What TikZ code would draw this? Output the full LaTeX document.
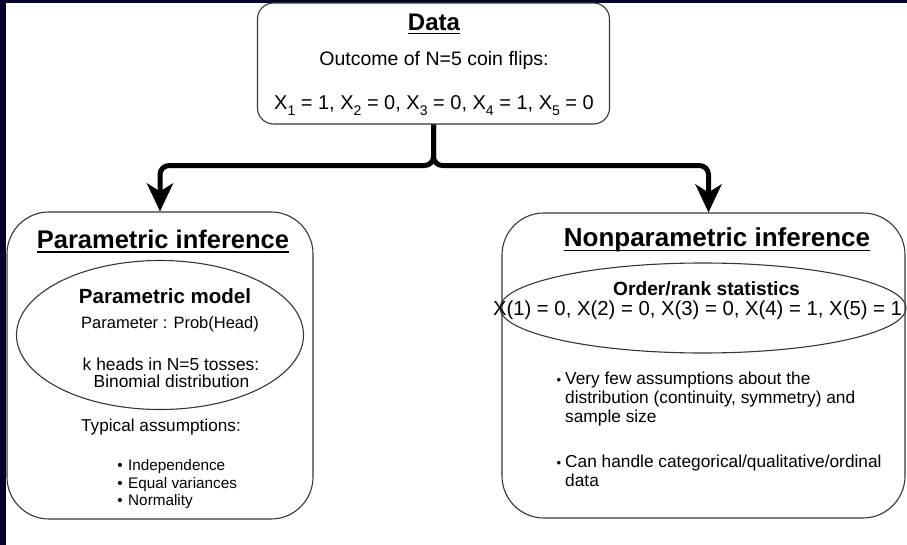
\documentclass[tikz,border=0pt]{standalone}
\usepackage{fontspec}
\setmainfont{Liberation Sans}
\usetikzlibrary{shapes.geometric,arrows.meta}
\definecolor{navy}{RGB}{3,3,45}
\definecolor{edgecol}{RGB}{55,55,55}
\newcommand{\mysub}[1]{\raisebox{-0.28em}{\fontsize{14}{14}\selectfont #1}}
\newcommand{\fs}[1]{\fontsize{#1}{#1}\selectfont}
\begin{document}
\begin{tikzpicture}[x=1pt,y=-1pt,
  box/.style={draw=edgecol, line width=1.1pt, inner sep=0pt},
  oval/.style={draw=edgecol, line width=1.1pt, ellipse, inner sep=0pt},
  txt/.style={inner sep=0pt, text=black},
  uline/.style={line width=1.2pt, black},
  conn/.style={line width=5pt, black, rounded corners=9pt, -{Stealth[length=28pt,width=26pt,inset=8pt]}}]
\useasboundingbox (0,0) rectangle (907,545);
\fill[white] (0,0) rectangle (907,545);
\fill[navy] (0,0) rectangle (6,545);
\fill[navy] (0,0) rectangle (907,3);

% boxes
\node[box, rounded corners=16pt, minimum width=352pt, minimum height=121pt] (data) at (433.5,63.5) {};
\node[box, rounded corners=42pt, minimum width=306pt, minimum height=307pt] (param) at (160,365.5) {};
\node[box, rounded corners=42pt, minimum width=403pt, minimum height=305pt] (nonparam) at (703.5,365.5) {};
\node[oval, minimum width=287pt, minimum height=149pt] (pell) at (160,335) {};
\node[oval, minimum width=406pt, minimum height=90pt] (nell) at (703,308) {};

% connectors
\draw[conn] (data.south) -- ++(0,41) -| (param.north);
\draw[conn] (data.south) -- ++(0,41) -| ([xshift=5pt]nonparam.north);

% data texts
\node[txt, anchor=base, font=\bfseries\fs{24}] (dtitle) at (434,31) {Data};
\draw[uline] ([yshift=-2.5pt]dtitle.base west) -- ([yshift=-2.5pt]dtitle.base east);
\node[txt, anchor=base, font=\fs{19.5}] (dout) at (434,65.5) {Outcome of N=5 coin flips:};
\node[txt, anchor=base, font=\fs{20}] (dx) at (434,110) {X\mysub{1} = 1, X\mysub{2} = 0, X\mysub{3} = 0, X\mysub{4} = 1, X\mysub{5} = 0};

% parametric
\node[txt, anchor=base, font=\bfseries\fs{25.5}] (ptitle) at (163,248.5) {Parametric inference};
\draw[uline] ([yshift=-3.5pt]ptitle.base west) -- ([yshift=-3.5pt]ptitle.base east);
\node[txt, anchor=base, font=\bfseries\fs{20.5}] (pmodel) at (165,303) {Parametric model};
\node[txt, anchor=base, font=\fs{16.5}] (pparam) at (170,328) {Parameter : Prob(Head)};
\node[txt, anchor=base, font=\fs{17.4}] (pk) at (171,370) {k heads in N=5 tosses:};
\node[txt, anchor=base, font=\fs{17.4}] (pbin) at (171.5,387) {Binomial distribution};
\node[txt, anchor=base, font=\fs{17.2}] (ptyp) at (161,431) {Typical assumptions:};
\node[txt, anchor=base, font=\fs{15.3}] (pb1) at (120,470) {•};
\node[txt, anchor=base west, font=\fs{15.3}] (pt1) at (128,470) {Independence};
\node[txt, anchor=base, font=\fs{15.3}] (pb2) at (120,488) {•};
\node[txt, anchor=base west, font=\fs{15.3}] (pt2) at (128,488) {Equal variances};
\node[txt, anchor=base, font=\fs{15.3}] (pb3) at (120,505.5) {•};
\node[txt, anchor=base west, font=\fs{15.3}] (pt3) at (128,505.5) {Normality};

% nonparametric
\node[txt, anchor=base, font=\bfseries\fs{26}] (ntitle) at (717,247) {Nonparametric inference};
\draw[uline] ([yshift=-3.5pt]ntitle.base west) -- ([yshift=-3.5pt]ntitle.base east);
\node[txt, anchor=base, font=\bfseries\fs{19.2}] (nord) at (706.5,295.5) {Order/rank statistics};
\node[txt, anchor=base, font=\fs{20.3}] (nx) at (697.5,315.5) {X(1) = 0, X(2) = 0, X(3) = 0, X(4) = 1, X(5) = 1};
\node[txt, anchor=base, font=\fs{13}] (nb1) at (559,384) {•};
\node[txt, anchor=base west, font=\fs{17.3}] (nt1a) at (565,384) {Very few assumptions about the};
\node[txt, anchor=base west, font=\fs{17.3}] (nt1b) at (565,403) {distribution (continuity, symmetry) and};
\node[txt, anchor=base west, font=\fs{17.3}] (nt1c) at (565,422) {sample size};
\node[txt, anchor=base, font=\fs{13}] (nb2) at (559,467) {•};
\node[txt, anchor=base west, font=\fs{17.3}] (nt2a) at (565,467) {Can handle categorical/qualitative/ordinal};
\node[txt, anchor=base west, font=\fs{17.3}] (nt2b) at (565,486) {data};
\end{tikzpicture}
\end{document}
